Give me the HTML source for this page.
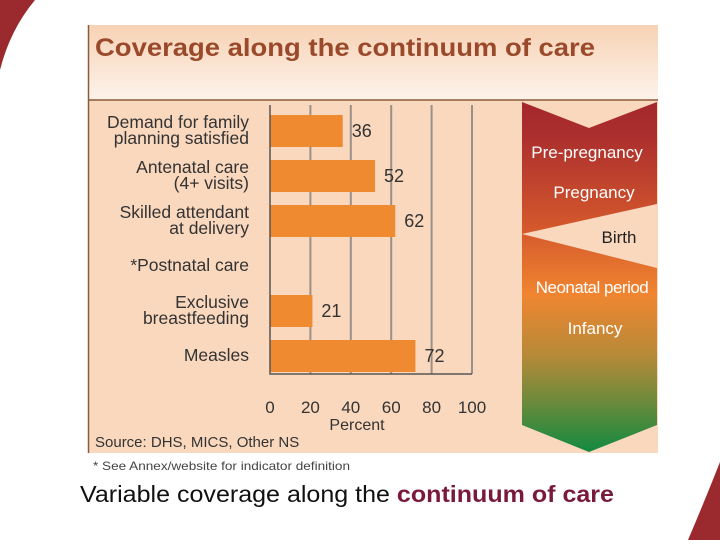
<!DOCTYPE html>
<html><head><meta charset="utf-8"><style>
body{margin:0;width:720px;height:540px;overflow:hidden;background:#fff;font-family:"Liberation Sans",sans-serif;}
svg text{font-family:"Liberation Sans",sans-serif;}
</style></head><body>
<svg width="720" height="540" xmlns="http://www.w3.org/2000/svg">
<defs>
<linearGradient id="tg" x1="0" y1="0" x2="0" y2="1"><stop offset="0" stop-color="#f7d2b4"/><stop offset="1" stop-color="#fdf3ec"/></linearGradient>
<linearGradient id="ag" x1="0" y1="102" x2="0" y2="452" gradientUnits="userSpaceOnUse">
<stop offset="0" stop-color="#a4282c"/><stop offset="0.1" stop-color="#ac2f2e"/><stop offset="0.36" stop-color="#d4582c"/><stop offset="0.55" stop-color="#f08530"/><stop offset="0.72" stop-color="#b88a38"/><stop offset="0.86" stop-color="#6a8a3c"/><stop offset="1" stop-color="#128a40"/></linearGradient>
</defs>
<path d="M0,0 L35,0 Q10,30 0,70 Z" fill="#9b2a2e"/>
<path d="M720,462 Q705,500 688,540 L720,540 Z" fill="#9b2a2e"/>
<rect x="88" y="25" width="570" height="428" fill="#f9d8be"/>
<rect x="88" y="25" width="570" height="75" fill="url(#tg)"/>
<line x1="88" y1="100" x2="658" y2="100" stroke="#8a5a3a" stroke-width="1.5"/>
<line x1="88.5" y1="25" x2="88.5" y2="453" stroke="#8a5a3a" stroke-width="1.5"/>
<text x="95" y="56" font-size="25" font-weight="bold" fill="#9a4a2a" textLength="500" lengthAdjust="spacingAndGlyphs">Coverage along the continuum of care</text>
<g id="plot"></g>
<path d="M522,102 L589,128 L657,102 L657,204 L522,234 L657,268 L657,425 L589,452 L522,425 Z" fill="url(#ag)"/>
<g font-size="17" text-anchor="middle">
<text x="587" y="158" fill="#fff">Pre-pregnancy</text>
<text x="594" y="198" fill="#fff">Pregnancy</text>
<text x="619" y="243" fill="#222">Birth</text>
<text x="592" y="293" fill="#fff" letter-spacing="-0.5">Neonatal period</text>
<text x="595" y="334" fill="#fff">Infancy</text>
</g>
<text x="357" y="430" font-size="16" text-anchor="middle" fill="#333">Percent</text>
<text x="95" y="447" font-size="15" fill="#333">Source: DHS, MICS, Other NS</text>
<text x="93" y="470" font-size="12" fill="#444" textLength="257" lengthAdjust="spacingAndGlyphs">* See Annex/website for indicator definition</text>
<text x="80" y="502" font-size="23" fill="#111" textLength="534" lengthAdjust="spacingAndGlyphs">Variable coverage along the <tspan font-weight="bold" fill="#7a1a3a">continuum of care</tspan></text>
</svg>
<script>
const categories=[["Demand for family","planning satisfied"],["Antenatal care","(4+ visits)"],["Skilled attendant","at delivery"],["*Postnatal care"],["Exclusive","breastfeeding"],["Measles"]];
const values=[36,52,62,null,21,72];
const ticks=[0,20,40,60,80,100];
const NS="http://www.w3.org/2000/svg";
const g=document.getElementById('plot');
const x0=270,x1=472,yTop=105,yBot=374,rowStart=109,rowH=45;
const xs=v=>x0+(x1-x0)*v/100;
function mk(t,a){const e=document.createElementNS(NS,t);for(const k in a)e.setAttribute(k,a[k]);g.appendChild(e);return e;}
ticks.forEach(t=>{
 if(t>0){const l=mk('line',{x1:xs(t),x2:xs(t),y1:yTop,y2:yBot,stroke:'#9a9088','stroke-width':2});
 
 }
 const tx=mk('text',{x:xs(t),y:413,'font-size':17,'text-anchor':'middle',fill:'#333'});tx.textContent=t;
 
 
});
categories.forEach((c,i)=>{
 const cy=rowStart+rowH*i+22;
 const v=values[i];
 if(v!=null){
  const r=mk('rect',{x:x0,y:cy-16,width:xs(v)-x0,height:32,fill:'#f08a30'});
  
  
  const vt=mk('text',{x:xs(v)+9,y:cy+6,'font-size':18,fill:'#333'});vt.textContent=v;
  
  
 }
 const lt=mk('text',{x:249,y:0,'font-size':17.5,'text-anchor':'end',fill:'#333'});
 
 
 const n=c.length;
 c.forEach((s,j)=>{const ts=document.createElementNS(NS,'tspan');ts.setAttribute('x',249);ts.setAttribute('y',cy+5+(j-(n-1)/2)*16);ts.textContent=s;lt.appendChild(ts);});
});
const ax=mk('path',{d:`M${x0},${yTop} L${x0},${yBot} L${x1},${yBot}`,fill:'none',stroke:'#555','stroke-width':1.5});


</script>
</body></html>
